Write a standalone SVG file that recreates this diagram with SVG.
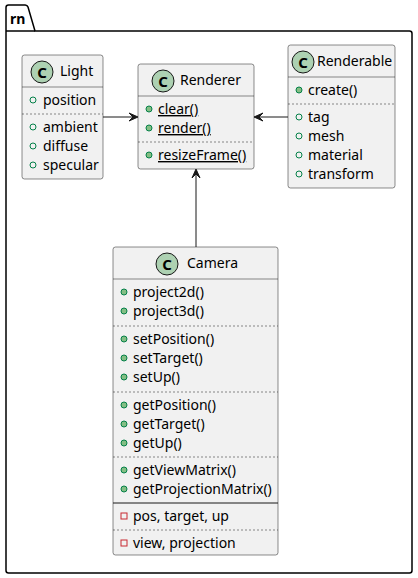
<svg xmlns="http://www.w3.org/2000/svg" width="418" height="578" viewBox="0 0 418 578">
<style>
text{font-family:"Noto Sans","DejaVu Sans",sans-serif;font-size:14px;fill:#000}
.box{fill:#F1F1F1;stroke:#181818;stroke-width:0.5}
.sep{stroke:#181818;stroke-width:0.5;fill:none}
.dash{stroke:#181818;stroke-width:0.5;stroke-dasharray:2,2;fill:none}
.solid{stroke:#181818;stroke-width:1;fill:none}
.spot{fill:#ADD1B2;stroke:#181818;stroke-width:1}
.c{font-weight:bold;font-size:15px;text-anchor:middle}
.pm{fill:#84BE84;stroke:#038048;stroke-width:1}
.pf{fill:none;stroke:#038048;stroke-width:1}
.vf{fill:none;stroke:#C82930;stroke-width:1}
.u{text-decoration:underline}
.edge{stroke:#181818;stroke-width:1;fill:none}
.head{fill:#181818;stroke:#181818;stroke-width:1}
</style>
<g id="pkg-rn">
<path d="M8.5,5 L25,5 A3,3 0 0 1 28,7 L35,31 L409.5,31 A2.5,2.5 0 0 1 412,33.5 L412,570.5 A2.5,2.5 0 0 1 409.5,573 L8.5,573 A2.5,2.5 0 0 1 6,570.5 L6,7.5 A2.5,2.5 0 0 1 8.5,5 Z" fill="none" stroke="#000" stroke-width="1.5"/>
<line x1="6" y1="31" x2="35" y2="31" stroke="#000" stroke-width="1.5"/>
<text x="10" y="24" font-weight="bold">rn</text>
</g>
<g id="connectors">
<line class="edge" x1="103" y1="117" x2="133" y2="117"/>
<polygon class="head" points="138,117 129,113 133,117 129,121"/>
<line class="edge" x1="288" y1="117" x2="259" y2="117"/>
<polygon class="head" points="254,117 263,113 259,117 263,121"/>
<line class="edge" x1="196" y1="247" x2="196" y2="174"/>
<polygon class="head" points="196,169 192,178 196,174 200,178"/>
</g>
<g id="Light">
<rect class="box" x="22" y="55" width="81" height="124" rx="2.5"/>
<circle class="spot" cx="42" cy="72" r="11"/>
<text class="c" x="42" y="77.5">C</text>
<text x="60" y="76">Light</text>
<line class="sep" x1="22" y1="87" x2="103" y2="87"/>
<circle class="pf" cx="33" cy="100" r="3"/>
<text x="43" y="105">position</text>
<line class="dash" x1="22" y1="114" x2="103" y2="114"/>
<circle class="pf" cx="33" cy="127" r="3"/>
<text x="43" y="132">ambient</text>
<circle class="pf" cx="33" cy="146" r="3"/>
<text x="43" y="151">diffuse</text>
<circle class="pf" cx="33" cy="165" r="3"/>
<text x="43" y="170">specular</text>
</g>
<g id="Renderer">
<rect class="box" x="138" y="64" width="116" height="105" rx="2.5"/>
<circle class="spot" cx="163" cy="81" r="11"/>
<text class="c" x="163" y="86.5">C</text>
<text x="180" y="85">Renderer</text>
<line class="sep" x1="138" y1="96" x2="254" y2="96"/>
<circle class="pm" cx="149" cy="109" r="3"/>
<text class="u" x="158" y="114">clear()</text>
<circle class="pm" cx="149" cy="128" r="3"/>
<text class="u" x="158" y="133">render()</text>
<line class="dash" x1="138" y1="142" x2="254" y2="142"/>
<circle class="pm" cx="149" cy="155" r="3"/>
<text class="u" x="158" y="160">resizeFrame()</text>
</g>
<g id="Renderable">
<rect class="box" x="288" y="45" width="107" height="143" rx="2.5"/>
<circle class="spot" cx="303" cy="62" r="11"/>
<text class="c" x="303" y="67.5">C</text>
<text x="317" y="66">Renderable</text>
<line class="sep" x1="288" y1="77" x2="395" y2="77"/>
<circle class="pm" cx="299" cy="90" r="3"/>
<text x="308" y="95">create()</text>
<line class="dash" x1="288" y1="104" x2="395" y2="104"/>
<circle class="pf" cx="299" cy="117" r="3"/>
<text x="308" y="122">tag</text>
<circle class="pf" cx="299" cy="136" r="3"/>
<text x="308" y="141">mesh</text>
<circle class="pf" cx="299" cy="155" r="3"/>
<text x="308" y="160">material</text>
<circle class="pf" cx="299" cy="174" r="3"/>
<text x="308" y="179">transform</text>
</g>
<g id="Camera">
<rect class="box" x="113" y="247" width="165" height="308" rx="2.5"/>
<circle class="spot" cx="167" cy="264" r="11"/>
<text class="c" x="167" y="269.5">C</text>
<text x="187" y="268">Camera</text>
<line class="sep" x1="113" y1="279" x2="278" y2="279"/>
<circle class="pm" cx="124" cy="292" r="3"/>
<text x="133" y="297">project2d()</text>
<circle class="pm" cx="124" cy="311" r="3"/>
<text x="133" y="316">project3d()</text>
<line class="dash" x1="113" y1="326" x2="278" y2="326"/>
<circle class="pm" cx="124" cy="339" r="3"/>
<text x="133" y="344">setPosition()</text>
<circle class="pm" cx="124" cy="358" r="3"/>
<text x="133" y="363">setTarget()</text>
<circle class="pm" cx="124" cy="377" r="3"/>
<text x="133" y="382">setUp()</text>
<line class="dash" x1="113" y1="392" x2="278" y2="392"/>
<circle class="pm" cx="124" cy="405" r="3"/>
<text x="133" y="410">getPosition()</text>
<circle class="pm" cx="124" cy="424" r="3"/>
<text x="133" y="429">getTarget()</text>
<circle class="pm" cx="124" cy="443" r="3"/>
<text x="133" y="448">getUp()</text>
<line class="dash" x1="113" y1="457" x2="278" y2="457"/>
<circle class="pm" cx="124" cy="470" r="3"/>
<text x="133" y="475">getViewMatrix()</text>
<circle class="pm" cx="124" cy="489" r="3"/>
<text x="133" y="494">getProjectionMatrix()</text>
<line class="solid" x1="113" y1="503" x2="278" y2="503"/>
<rect class="vf" x="121" y="513" width="6" height="6"/>
<text x="133" y="521">pos, target, up</text>
<line class="dash" x1="113" y1="530" x2="278" y2="530"/>
<rect class="vf" x="121" y="540" width="6" height="6"/>
<text x="133" y="548">view, projection</text>
</g>
</svg>
